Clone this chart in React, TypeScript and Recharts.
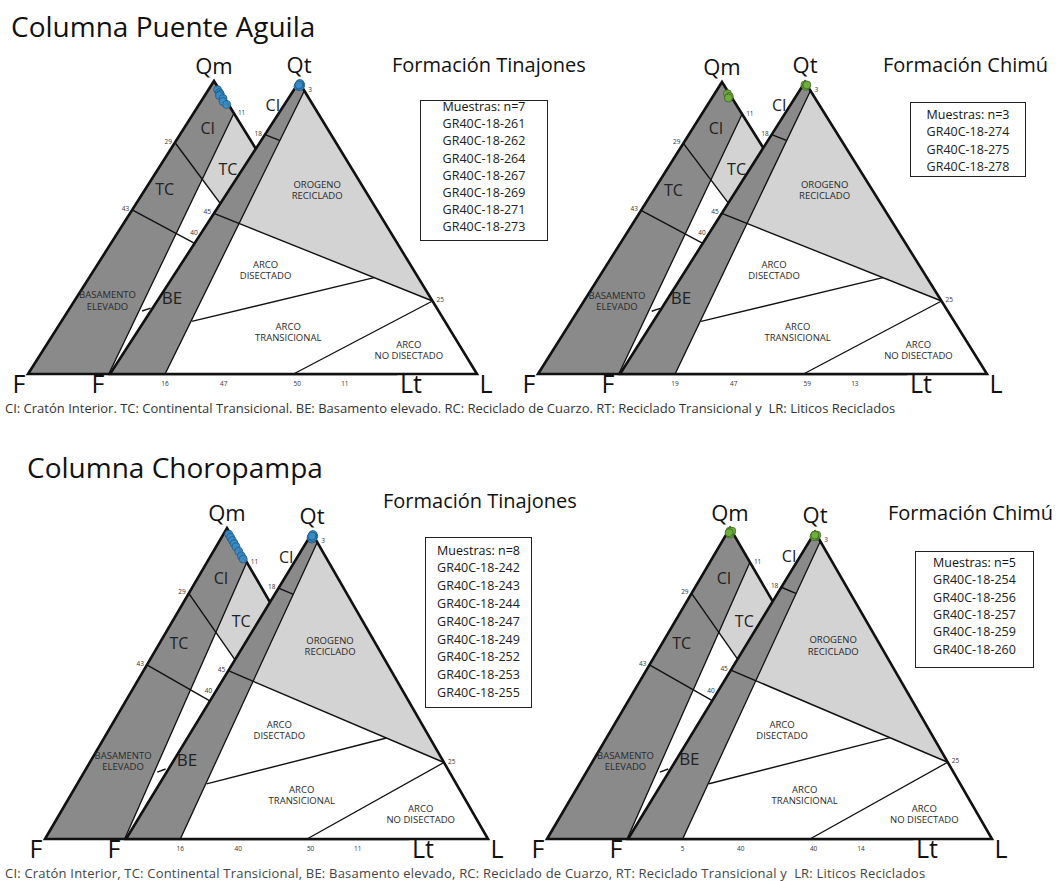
import React from 'react';
import { ScatterChart, Scatter, XAxis, YAxis } from 'recharts';

type T3 = [number, number, number];
type Pt = [number, number];
type Tri = { q: Pt; f: Pt; l: Pt };

const W = 1058;
const H = 881;
const FONT = '"Open Sans", "Noto Sans", sans-serif';
const DARK = '#8a8a8a';
const LIGHT = '#d3d3d3';
const INK = '#111';

// ---- QmFLt fields (Qm, F, Lt) ----
const qmOutline: T3[] = [[0, 100, 0], [100, 0, 0], [0, 0, 100]];
const qmTransLight: T3[] = [[89, 0, 11], [55, 0, 45], [49, 18, 33], [79, 21, 0]];
const qmContinental: T3[] = [[0, 100, 0], [100, 0, 0], [89, 0, 11], [0, 78, 22]];
const qmLines: T3[][] = [
  [[79, 21, 0], [49, 18, 33]],
  [[56, 44, 0], [44, 32, 24]],
  [[21.5, 58.3, 20.2], [22.5, 55.5, 22]],
];

// ---- QtFL fields (Qt, F, L) ----
const qtOutline: T3[] = [[0, 100, 0], [100, 0, 0], [0, 0, 100]];
const qtOrogen: T3[] = [[100, 0, 0], [25, 0, 75], [55, 45, 0]];
const qtContinental: T3[] = [[0, 100, 0], [100, 0, 0], [97, 0, 3], [0, 85, 15]];
const qtLines: T3[][] = [
  [[55, 45, 0], [25, 0, 75]],
  [[25, 0, 75], [0, 50, 50]],
  [[18, 69, 13], [33, 12, 55]],
  [[82, 18, 0], [80, 15, 5]],
];

// ---- samples ----
const paTinajonesQm: T3[] = [[97, 0.5, 2.5], [96, 0.5, 3.5], [95.5, 0.5, 4], [95, 1, 4], [94, 0.5, 5.5], [93, 1, 6], [92, 0.5, 7.5]];
const paTinajonesQt: T3[] = [[99, 0.5, 0.5], [98.5, 0.5, 1], [99, 0, 1], [98.5, 1, 0.5], [99.5, 0, 0.5], [98.5, 0.5, 1], [99, 0.5, 0.5]];
const paChimuQm: T3[] = [[96, 0.5, 3.5], [95, 0.5, 4.5], [94.5, 1, 4.5]];
const paChimuQt: T3[] = [[99, 0.5, 0.5], [98.5, 0.5, 1], [99, 0, 1]];
const chTinajonesQm: T3[] = [[98, 0.5, 1.5], [97, 0.5, 2.5], [96, 0.5, 3.5], [95, 0.5, 4.5], [94, 0.5, 5.5], [92.5, 0.5, 7], [91, 0.5, 8.5], [90, 0.5, 9.5]];
const chTinajonesQt: T3[] = [[99, 0.5, 0.5], [98.5, 0.5, 1], [99, 0, 1], [98.5, 1, 0.5], [99.5, 0, 0.5], [98, 1, 1], [98.5, 0.5, 1], [99, 0.5, 0.5]];
const chChimuQm: T3[] = [[99, 0.5, 0.5], [98.5, 0.5, 1], [98, 1, 1], [99, 0, 1], [98.5, 1, 0.5]];
const chChimuQt: T3[] = [[99, 0.5, 0.5], [98.5, 0.5, 1], [99, 0, 1], [98.5, 1, 0.5], [99, 0.5, 0.5]];

const paTinajonesIds = ['GR40C-18-261', 'GR40C-18-262', 'GR40C-18-264', 'GR40C-18-267', 'GR40C-18-269', 'GR40C-18-271', 'GR40C-18-273'];
const paChimuIds = ['GR40C-18-274', 'GR40C-18-275', 'GR40C-18-278'];
const chTinajonesIds = ['GR40C-18-242', 'GR40C-18-243', 'GR40C-18-244', 'GR40C-18-247', 'GR40C-18-249', 'GR40C-18-252', 'GR40C-18-253', 'GR40C-18-255'];
const chChimuIds = ['GR40C-18-254', 'GR40C-18-256', 'GR40C-18-257', 'GR40C-18-259', 'GR40C-18-260'];

// ---- labels ----
type Lab = { t: T3; text: string; size: number; dx?: number; dy?: number; anchor?: string; color?: string; mid?: boolean };

const qmLabels: Lab[] = [
  { t: [100, 0, 0], text: 'Qm', size: 22, dy: -7 },
  { t: [0, 100, 0], text: 'F', size: 25, dx: -9, dy: 19 },
  { t: [0, 0, 100], text: 'Lt', size: 25, dx: 16, dy: 19 },
  { t: [89, 0, 11], text: '11', size: 6.5, dx: 4, dy: 2, anchor: 'start', color: '#333' },
  { t: [79, 21, 0], text: '29', size: 6.5, dx: -3, dy: 1, anchor: 'end', color: '#333' },
  { t: [56, 44, 0], text: '43', size: 6.5, dx: -3, dy: 1, anchor: 'end', color: '#333' },
  { t: [84, 9.6, 6.4], text: 'CI', size: 16, mid: true, color: '#222' },
  { t: [70, 11, 19], text: 'TC', size: 16, mid: true, color: '#222' },
  { t: [63, 31.7, 5.3], text: 'TC', size: 16, mid: true, color: '#222' },
  { t: [25, 66, 9], text: 'BASAMENTO\nELEVADO', size: 9.5, mid: true, color: '#2a2a2a' },
];

const qtLabels: Lab[] = [
  { t: [100, 0, 0], text: 'Qt', size: 22, dy: -9 },
  { t: [0, 100, 0], text: 'F', size: 25, dx: -12, dy: 19 },
  { t: [0, 0, 100], text: 'L', size: 25, dx: 9, dy: 19 },
  { t: [97, 0, 3], text: '3', size: 6.5, dx: 4, dy: 1, anchor: 'start', color: '#333' },
  { t: [82, 18, 0], text: '18', size: 6.5, dx: -3, dy: 1, anchor: 'end', color: '#333' },
  { t: [55, 45, 0], text: '45', size: 6.5, dx: -3, dy: 1, anchor: 'end', color: '#333' },
  { t: [48, 52, 0], text: '40', size: 6.5, dx: -3, dy: 1, anchor: 'end', color: '#333' },
  { t: [25, 0, 75], text: '25', size: 6.5, dx: 4, dy: 1, anchor: 'start', color: '#333' },
  { t: [92, 11, -3], text: 'CI', size: 16, mid: true, color: '#222' },
  { t: [26, 70.5, 3.5], text: 'BE', size: 17, mid: true, color: '#222' },
  { t: [63, 13, 24], text: 'OROGENO\nRECICLADO', size: 9.5, mid: true, color: '#2a2a2a' },
  { t: [35.5, 40.4, 24.1], text: 'ARCO\nDISECTADO', size: 9.5, mid: true, color: '#2a2a2a' },
  { t: [14.3, 44.5, 41.2], text: 'ARCO\nTRANSICIONAL', size: 9.5, mid: true, color: '#2a2a2a' },
  { t: [8.2, 14.6, 77.2], text: 'ARCO\nNO DISECTADO', size: 9.5, mid: true, color: '#2a2a2a' },
];

const baseTickL = [15, 31, 51, 64];
const baseTicksPA = ['16', '47', '50', '11'];
const baseTicksPAChimu = ['19', '47', '59', '13'];
const baseTicksCH = ['16', '40', '50', '11'];
const baseTicksCHChimu = ['5', '40', '40', '14'];

// ---- panel layout (vertex positions in page px) ----
const PANELS = [
  {
    qm: { q: [214, 81], f: [28, 374], l: [395, 374] } as Tri,
    qt: { q: [299, 82], f: [110, 374], l: [477, 374] } as Tri,
    sQm: paTinajonesQm, sQt: paTinajonesQt, color: '#3a8cc6', edge: '#1e5a85', ticks: baseTicksPA,
  },
  {
    qm: { q: [722, 82], f: [538, 374], l: [905, 374] } as Tri,
    qt: { q: [805, 82], f: [620, 374], l: [987, 374] } as Tri,
    sQm: paChimuQm, sQt: paChimuQt, color: '#6fae3c', edge: '#3b6420', ticks: baseTicksPAChimu,
  },
  {
    qm: { q: [227, 528], f: [45, 839], l: [407, 839] } as Tri,
    qt: { q: [312, 533], f: [126, 839], l: [488, 839] } as Tri,
    sQm: chTinajonesQm, sQt: chTinajonesQt, color: '#3a8cc6', edge: '#1e5a85', ticks: baseTicksCH,
  },
  {
    qm: { q: [730, 528], f: [547, 839], l: [911, 839] } as Tri,
    qt: { q: [815, 532], f: [628, 839], l: [992, 839] } as Tri,
    sQm: chChimuQm, sQt: chChimuQt, color: '#6fae3c', edge: '#3b6420', ticks: baseTicksCHChimu,
  },
];

const proj = (tri: Tri, t: T3) => ({
  x: (t[0] * tri.q[0] + t[1] * tri.f[0] + t[2] * tri.l[0]) / 100,
  y: (t[0] * tri.q[1] + t[1] * tri.f[1] + t[2] * tri.l[1]) / 100,
});

const noDot = () => <g />;

const polyFill = (fill: string, stroke: string, sw: number) => (p: any) => (
  <polygon
    points={(p.points || []).map((pt: any) => `${pt.x},${pt.y}`).join(' ')}
    fill={fill}
    stroke={stroke}
    strokeWidth={sw}
    strokeLinejoin="miter"
  />
);

const polyOpen = (stroke: string, sw: number) => (p: any) => (
  <polyline
    points={(p.points || []).map((pt: any) => `${pt.x},${pt.y}`).join(' ')}
    fill="none"
    stroke={stroke}
    strokeWidth={sw}
  />
);

const LabelShape = (p: any) => {
  const d = p.payload;
  const lines: string[] = d.text.split('\n');
  const lh = d.size * 1.2;
  const x = p.cx + (d.dx || 0);
  let y = p.cy + (d.dy || 0);
  if (d.mid) y = y - ((lines.length - 1) * lh) / 2 + d.size * 0.36;
  return (
    <text x={x} y={y} fontSize={d.size} fontFamily={FONT} textAnchor={d.anchor || 'middle'} fill={d.color || INK}>
      {lines.map((ln, i) => (
        <tspan key={i} x={x} dy={i === 0 ? 0 : lh}>
          {ln}
        </tspan>
      ))}
    </text>
  );
};

const dotShape = (fill: string, edge: string) => (p: any) => (
  <circle cx={p.cx} cy={p.cy} r={4} fill={fill} stroke={edge} strokeWidth={0.8} fillOpacity={0.9} />
);

function panelSeries(pi: number) {
  const P = PANELS[pi];
  const out: React.ReactNode[] = [];
  const k = (s: string) => `p${pi}-${s}`;
  const poly = (name: string, tri: Tri, pts: T3[], fill: string, stroke: string, sw: number) => (
    <Scatter key={k(name)} data={pts.map((t) => proj(tri, t))} line={polyFill(fill, stroke, sw)} lineType="joint" shape={noDot} isAnimationActive={false} />
  );
  const seg = (name: string, tri: Tri, pts: T3[], sw: number) => (
    <Scatter key={k(name)} data={pts.map((t) => proj(tri, t))} line={polyOpen(INK, sw)} lineType="joint" shape={noDot} isAnimationActive={false} />
  );
  // QmFLt (behind)
  out.push(poly('qm-bg', P.qm, qmOutline, '#fff', 'none', 0));
  out.push(poly('qm-light', P.qm, qmTransLight, LIGHT, 'none', 0));
  out.push(poly('qm-dark', P.qm, qmContinental, DARK, INK, 1.3));
  qmLines.forEach((ln, i) => out.push(seg(`qm-l${i}`, P.qm, ln, 1.4)));
  out.push(poly('qm-edge', P.qm, qmOutline, 'none', INK, 2.6));
  // QtFL (front)
  out.push(poly('qt-bg', P.qt, qtOutline, '#fff', 'none', 0));
  out.push(poly('qt-light', P.qt, qtOrogen, LIGHT, 'none', 0));
  out.push(poly('qt-dark', P.qt, qtContinental, DARK, INK, 1.3));
  qtLines.forEach((ln, i) => out.push(seg(`qt-l${i}`, P.qt, ln, 1.4)));
  out.push(poly('qt-edge', P.qt, qtOutline, 'none', INK, 2.6));
  // labels
  const labs = [
    ...qmLabels.map((l) => ({ ...proj(P.qm, l.t), ...l })),
    ...qtLabels.map((l) => ({ ...proj(P.qt, l.t), ...l })),
    ...P.ticks.map((txt, i) => ({
      ...proj(P.qt, [0, 100 - baseTickL[i], baseTickL[i]] as T3),
      text: txt, size: 6.5, dy: 12, color: '#333',
    })),
  ];
  out.push(<Scatter key={k('labels')} data={labs} shape={LabelShape} isAnimationActive={false} />);
  // samples
  out.push(<Scatter key={k('sqm')} data={P.sQm.map((t) => proj(P.qm, t))} shape={dotShape(P.color, P.edge)} isAnimationActive={false} />);
  out.push(<Scatter key={k('sqt')} data={P.sQt.map((t) => proj(P.qt, t))} shape={dotShape(P.color, P.edge)} isAnimationActive={false} />);
  return out;
}

function SampleBox({ left, top, width, height, n, ids, lh, base0 }: { left: number; top: number; width: number; height: number; n: number; ids: string[]; lh: number; base0: number }) {
  // base0: page y of the first text baseline
  const fs = 12.5;
  const half = (lh - 1.362 * fs) / 2 + 1.069 * fs;
  return (
    <div
      style={{
        position: 'absolute', left, top, width, height, boxSizing: 'border-box',
        border: '1.6px solid #222', background: '#fff', fontFamily: FONT, fontSize: fs,
        color: '#222', textAlign: 'center', lineHeight: `${lh}px`,
      }}
    >
      <div style={{ position: 'absolute', left: 0, right: 0, top: base0 - top - half - 1.6 }}>
        <div style={{ color: '#111' }}>{`Muestras: n=${n}`}</div>
        {ids.map((id) => (
          <div key={id}>{id}</div>
        ))}
      </div>
    </div>
  );
}

const txt = (left: number, top: number, size: number, s: string, color = '#111', ls = 0) => (
  <div style={{ position: 'absolute', left, top, fontFamily: FONT, fontSize: size, color, whiteSpace: 'pre', lineHeight: 1, letterSpacing: ls }}>{s}</div>
);

const NOTE1 = 'CI: Cratón Interior. TC: Continental Transicional. BE: Basamento elevado. RC: Reciclado de Cuarzo. RT: Reciclado Transicional y  LR: Liticos Reciclados';
const NOTE2 = 'CI: Cratón Interior, TC: Continental Transicional, BE: Basamento elevado, RC: Reciclado de Cuarzo, RT: Reciclado Transicional y  LR: Liticos Reciclados';

export default function App() {
  return (
    <div style={{ position: 'absolute', left: 0, top: 0, width: W, height: H, background: '#fff', overflow: 'hidden' }}>
      <ScatterChart width={W} height={H} margin={{ top: 0, right: 0, bottom: 0, left: 0 }}>
        <XAxis type="number" dataKey="x" domain={[0, W]} hide allowDataOverflow />
        <YAxis type="number" dataKey="y" domain={[0, H]} reversed hide allowDataOverflow />
        {panelSeries(0)}
        {panelSeries(1)}
        {panelSeries(2)}
        {panelSeries(3)}
      </ScatterChart>
      {txt(11, 12, 28, 'Columna Puente Aguila')}
      {txt(392, 55, 20, 'Formación Tinajones')}
      {txt(883, 55, 20, 'Formación Chimú')}
      {txt(5, 402, 13, NOTE1, '#333')}
      {txt(27, 453, 28, 'Columna Choropampa')}
      {txt(383, 491, 20, 'Formación Tinajones')}
      {txt(888, 503, 20, 'Formación Chimú')}
      {txt(5, 867, 13, NOTE2, '#444', 0.2)}
      <SampleBox left={420} top={100} width={128} height={141} n={7} ids={paTinajonesIds} lh={17.2} base0={112} />
      <SampleBox left={910} top={102} width={116} height={75} n={3} ids={paChimuIds} lh={17.4} base0={120} />
      <SampleBox left={425} top={537} width={107} height={171} n={8} ids={chTinajonesIds} lh={17.8} base0={556} />
      <SampleBox left={915} top={551} width={119} height={117} n={5} ids={chChimuIds} lh={17.4} base0={568} />
    </div>
  );
}
